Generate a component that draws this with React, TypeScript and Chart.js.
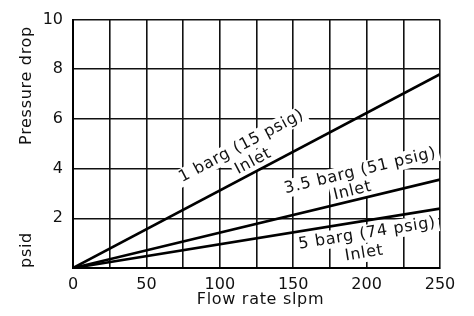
import React, { useEffect, useRef } from 'react';
import { Chart, registerables } from 'chart.js';

Chart.register(...registerables);

// ---- data ----
const flowRate = [0, 250]; // slpm
const drop1barg = [0, 7.8]; // psid
const drop35barg = [0, 3.56];
const drop5barg = [0, 2.39];
const seriesNames = ['1 barg (15 psig)', '3.5 barg (51 psig)', '5 barg (74 psig)'];
const inletText = 'Inlet';
const xTickLabels = [0, 50, 100, 150, 200, 250];
const yTickLabels = [2, 4, 6, 8, 10];
const xTitle = 'Flow rate slpm';
const yTitleTop = 'Pressure drop';
const yTitleBottom = 'psid';

// ---- label placement along lines (flow position, perpendicular px offset) ----
const namePlace = [
  { at: 124, off: -29 },
  { at: 200, off: -27 },
  { at: 199, off: 13 },
];
const inletPlace = [
  { at: 126, off: -10 },
  { at: 192, off: -9.5 },
  { at: 195, off: 32 },
];

const FONT = '16px "DejaVu Sans"';
const SPACING = '0.7px';

function makePoints(ys: number[]) {
  return flowRate.map((x, i) => ({ x, y: ys[i] }));
}

const labelPlugin = {
  id: 'lineLabels',
  beforeDatasetsDraw(chart: any) {
    const ctx = chart.ctx as CanvasRenderingContext2D;
    const xs = chart.scales.x;
    const ys = chart.scales.y;
    const drawAlong = (dsIndex: number, flow: number, off: number, text: string) => {
      const data = chart.data.datasets[dsIndex].data;
      const x0 = xs.getPixelForValue(data[0].x);
      const y0 = ys.getPixelForValue(data[0].y);
      const x1 = xs.getPixelForValue(data[1].x);
      const y1 = ys.getPixelForValue(data[1].y);
      const ang = Math.atan2(y1 - y0, x1 - x0);
      const t = (flow - data[0].x) / (data[1].x - data[0].x);
      const px = x0 + t * (x1 - x0);
      const py = y0 + t * (y1 - y0);
      ctx.save();
      ctx.translate(px, py);
      ctx.rotate(ang);
      ctx.font = FONT;
      (ctx as any).letterSpacing = SPACING;
      const w = ctx.measureText(text).width;
      ctx.fillStyle = '#fff';
      ctx.fillRect(-w / 2 - 3, off - 9, w + 6, 18);
      ctx.fillStyle = '#111';
      ctx.textAlign = 'center';
      ctx.textBaseline = 'middle';
      ctx.fillText(text, 0, off);
      ctx.restore();
    };
    seriesNames.forEach((name, i) => {
      drawAlong(i, namePlace[i].at, namePlace[i].off, name);
      drawAlong(i, inletPlace[i].at, inletPlace[i].off, inletText);
    });
  },
  afterDraw(chart: any) {
    const ctx = chart.ctx as CanvasRenderingContext2D;
    const area = chart.chartArea;
    ctx.save();
    ctx.font = FONT;
    (ctx as any).letterSpacing = SPACING;
    ctx.fillStyle = '#111';
    ctx.textAlign = 'center';
    ctx.textBaseline = 'middle';
    ctx.fillText(xTitle, (area.left + area.right) / 2 + 4, 300);
    ctx.translate(27, 0);
    ctx.rotate(-Math.PI / 2);
    ctx.fillText(yTitleTop, -85.5, 0);
    ctx.fillText(yTitleBottom, -250, 0);
    ctx.restore();
  },
};

export default function App() {
  const ref = useRef<HTMLCanvasElement | null>(null);
  useEffect(() => {
    document.body.style.margin = '0';
    const canvas = ref.current!;
    const chart = new Chart(canvas, {
      type: 'line',
      data: {
        datasets: [drop1barg, drop35barg, drop5barg].map((ys, i) => ({
          label: seriesNames[i],
          data: makePoints(ys),
          borderColor: '#000',
          borderWidth: 2.6,
          pointRadius: 0,
          fill: false,
        })),
      },
      options: {
        responsive: false,
        animation: false,
        layout: { padding: { top: 9, right: 34, left: 0, bottom: 0 } },
        plugins: { legend: { display: false }, tooltip: { enabled: false } },
        scales: {
          x: {
            type: 'linear',
            min: 0,
            max: 250,
            afterFit: (s: any) => { s.height = 48; },
            ticks: {
              stepSize: 25,
              autoSkip: false,
              maxRotation: 0,
              padding: 7,
              color: '#111',
              font: { family: 'DejaVu Sans', size: 16 },
              callback: (v: any) => (xTickLabels.includes(Number(v)) ? String(v) : ''),
            },
            grid: { color: '#111', lineWidth: 1.6, drawTicks: false },
            border: { color: '#000', width: 2 },
          },
          y: {
            type: 'linear',
            min: 0,
            max: 10,
            afterFit: (s: any) => { s.width = 73; },
            ticks: {
              stepSize: 2,
              padding: 10,
              color: '#111',
              font: { family: 'DejaVu Sans', size: 16 },
              callback: (v: any) => (yTickLabels.includes(Number(v)) ? String(v) : ''),
            },
            grid: { color: '#111', lineWidth: 1.6, drawTicks: false },
            border: { color: '#000', width: 2 },
          },
        },
      },
      plugins: [labelPlugin],
    });
    return () => chart.destroy();
  }, []);
  return (
    <canvas
      ref={ref}
      width={474}
      height={316}
      style={{ position: 'absolute', left: 0, top: 0, width: 474, height: 316 }}
    />
  );
}
